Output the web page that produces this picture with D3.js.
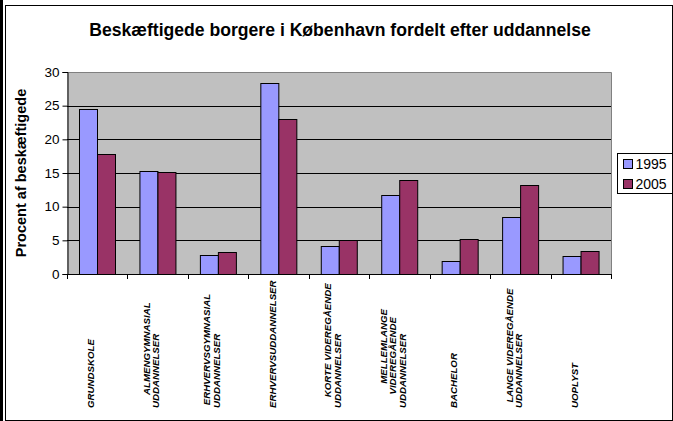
<!DOCTYPE html>
<html>
<head>
<meta charset="utf-8">
<script src="https://cdn.jsdelivr.net/npm/d3@7"></script>
<style>
  html, body { margin: 0; padding: 0; background: #fff; }
  svg { display: block; font-family: "Liberation Sans", Arial, sans-serif; }
</style>
</head>
<body>
<svg id="chart" width="673" height="421"></svg>
<script>
const title = "Beskæftigede borgere i København fordelt efter uddannelse";
const yAxisTitle = "Procent af beskæftigede";
const categories = [
  "GRUNDSKOLE",
  "ALMENGYMNASIAL UDDANNELSER",
  "ERHVERVSGYMNASIAL UDDANNELSER",
  "ERHVERVSUDDANNELSER",
  "KORTE VIDEREGÅENDE UDDANNELSER",
  "MELLEMLANGE VIDEREGÅENDE UDDANNELSER",
  "BACHELOR",
  "LANGE VIDEREGÅENDE UDDANNELSER",
  "UOPLYST"
];
// label lines as wrapped in the original (leading spaces as in the source text)
const categoryLines = [
  ["GRUNDSKOLE"],
  ["     ALMENGYMNASIAL", "UDDANNELSER"],
  [" ERHVERVSGYMNASIAL", "UDDANNELSER"],
  ["ERHVERVSUDDANNELSER"],
  ["    KORTE VIDEREGÅENDE", "UDDANNELSER"],
  ["         MELLEMLANGE", "     VIDEREGÅENDE", "UDDANNELSER"],
  ["BACHELOR"],
  ["  LANGE VIDEREGÅENDE", "UDDANNELSER"],
  ["UOPLYST"]
];
const seriesNames = ["1995", "2005"];
const values1995 = [24.5, 15.3, 2.8, 28.3, 4.1, 11.8, 2.0, 8.4, 2.6];
const values2005 = [17.8, 15.2, 3.2, 23.0, 5.0, 13.9, 5.2, 13.2, 3.4];
const yTicks = [0, 5, 10, 15, 20, 25, 30];
const colors = ["#9999FF", "#993366"];

const FONT = "'Liberation Sans', Arial, sans-serif";
const svg = d3.select("#chart");
const W = 673, H = 421;
const plot = { left: 67, right: 611, top: 72, bottom: 274 };

// outer chart frame
svg.append("rect").attr("x", 0).attr("y", 0).attr("width", 3).attr("height", H).attr("fill", "#000");
svg.append("rect").attr("x", 5.5).attr("y", 5.5).attr("width", 667).attr("height", 415)
  .attr("fill", "#fff").attr("stroke", "#000").attr("stroke-width", 1);

const x = d3.scaleBand().domain(categories).range([plot.left, plot.right]).paddingInner(0).paddingOuter(0);
const xs = d3.scaleBand().domain(seriesNames).range([0, x.bandwidth()]).paddingInner(0).paddingOuter(0.68);
const y = d3.scaleLinear().domain([0, 30]).range([plot.bottom, plot.top]);

// plot background
svg.append("rect").attr("x", plot.left).attr("y", plot.top)
  .attr("width", plot.right - plot.left).attr("height", plot.bottom - plot.top)
  .attr("fill", "#C0C0C0");

// gridlines
svg.append("g").selectAll("line").data(yTicks.filter(t => t > 0 && t < 30)).join("line")
  .attr("x1", plot.left).attr("x2", plot.right)
  .attr("y1", d => Math.round(y(d)) + 0.5).attr("y2", d => Math.round(y(d)) + 0.5)
  .attr("stroke", "#000").attr("stroke-width", 1);

// plot border (top/right gray)
svg.append("path")
  .attr("d", `M${plot.left},${plot.top + 0.5}H${plot.right + 0.5}V${plot.bottom}`)
  .attr("fill", "none").attr("stroke", "#808080").attr("stroke-width", 1);

// bars
const data = categories.map((c, i) => ({ c, vals: [values1995[i], values2005[i]] }));
const groups = svg.append("g").selectAll("g").data(data).join("g")
  .attr("transform", d => `translate(${x(d.c)},0)`);
groups.selectAll("rect").data(d => d.vals.map((v, j) => ({ s: seriesNames[j], v, j }))).join("rect")
  .attr("x", d => Math.round(xs(d.s)) + 0.5)
  .attr("y", d => Math.round(y(d.v)) + 0.5)
  .attr("width", Math.round(xs.bandwidth()))
  .attr("height", d => Math.round(y(0)) - Math.round(y(d.v)))
  .attr("fill", d => colors[d.j])
  .attr("stroke", "#000").attr("stroke-width", 1);

// y axis
const yAxis = d3.axisLeft(y).tickValues(yTicks).tickSize(5).tickPadding(3).tickFormat(d3.format("d"));
const gy = svg.append("g").attr("transform", `translate(${plot.left + 0.5},0)`).call(yAxis);
gy.select(".domain").attr("stroke", "#000");
gy.selectAll(".tick line").attr("stroke", "#000");
gy.selectAll(".tick text").attr("font-size", "13.5px").attr("font-family", FONT).attr("fill", "#000");

// x axis line and ticks at category boundaries
const gx = svg.append("g");
gx.append("line").attr("x1", plot.left).attr("x2", plot.right + 1)
  .attr("y1", Math.round(y(0)) + 0.5).attr("y2", Math.round(y(0)) + 0.5)
  .attr("stroke", "#000");
const boundaries = categories.map(c => x(c)).concat([x(categories[categories.length - 1]) + x.bandwidth()]);
gx.selectAll("line.tk").data(boundaries).join("line").attr("class", "tk")
  .attr("x1", d => Math.round(d) + 0.5).attr("x2", d => Math.round(d) + 0.5)
  .attr("y1", Math.round(y(0))).attr("y2", Math.round(y(0)) + 5)
  .attr("stroke", "#000");

// x labels (rotated)
const lineH = 9.5;
const labelBottom = 408;
const lg = svg.append("g").selectAll("text").data(categories).join("text")
  .attr("transform", d => `translate(${x(d) + x.bandwidth() / 2 - 3},${labelBottom}) rotate(-90)`)
  .attr("text-anchor", "start")
  .attr("font-family", FONT)
  .attr("font-size", "9.7px").attr("font-weight", "bold").attr("font-style", "italic")
  .style("white-space", "pre")
  .attr("fill", "#000");
lg.each(function(d, i) {
  const lines = categoryLines[i];
  const n = lines.length;
  d3.select(this).selectAll("tspan").data(lines).join("tspan")
    .attr("x", 0)
    .attr("y", (l, k) => (k - (n - 1) / 2) * lineH)
    .text(l => l);
});

// y axis title
svg.append("text")
  .attr("transform", `translate(26,${(plot.top + plot.bottom) / 2}) rotate(-90)`)
  .attr("text-anchor", "middle")
  .attr("font-family", FONT)
  .attr("font-size", "14.5px").attr("font-weight", "bold")
  .text(yAxisTitle);

// title
svg.append("text")
  .attr("x", 340).attr("y", 36)
  .attr("text-anchor", "middle")
  .attr("font-family", FONT)
  .attr("font-size", "17.6px").attr("font-weight", "bold")
  .text(title);

// legend
const leg = svg.append("g").attr("transform", "translate(617.5,153.5)");
leg.append("rect").attr("width", 55).attr("height", 40).attr("fill", "#fff").attr("stroke", "#000");
const li = leg.selectAll("g").data(seriesNames).join("g")
  .attr("transform", (d, i) => `translate(6,${10 + i * 20})`);
li.append("rect").attr("x", 0).attr("y", -4).attr("width", 9).attr("height", 9)
  .attr("fill", (d, i) => colors[i]).attr("stroke", "#000");
li.append("text").attr("x", 12).attr("y", 5.5).attr("font-family", FONT).attr("font-size", "14px").text(d => d);
</script>
</body>
</html>
